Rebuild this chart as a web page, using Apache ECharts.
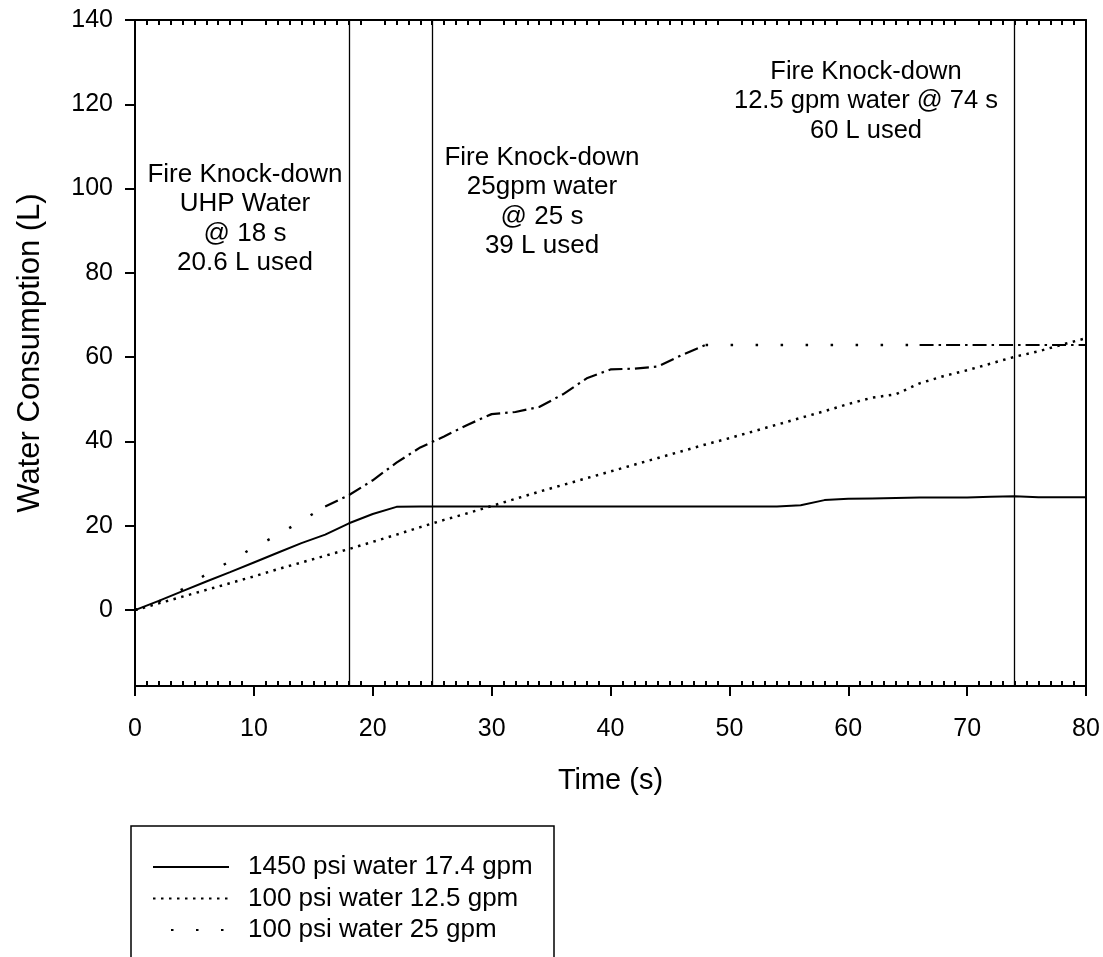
<!DOCTYPE html>
<html>
<head>
<meta charset="utf-8">
<script src="https://cdn.jsdelivr.net/npm/echarts@6/dist/echarts.min.js"></script>
<style>
html,body{margin:0;padding:0;background:#fff;}
#chart{width:1103px;height:957px;}
</style>
</head>
<body>
<div id="chart"></div>
<script>
// ---- data ----
const timeS = [0,2,4,6,8,10,12,14,16,18,20,22,24,26,28,30,32,34,36,38,40,42,44,46,48,50,52,54,56,58,60,62,64,66,68,70,72,74,76,78,80];
const uhp1450 = [0,2.2,4.5,6.8,9.0,11.3,13.6,15.9,17.9,20.6,22.8,24.5,24.6,24.6,24.6,24.6,24.6,24.6,24.6,24.6,24.6,24.6,24.6,24.6,24.6,24.6,24.6,24.6,24.9,26.1,26.4,26.5,26.6,26.7,26.7,26.7,26.9,27.0,26.8,26.8,26.8];
const low125 = [0,1.6,3.2,4.8,6.4,8.0,9.7,11.3,12.9,14.5,16.2,17.9,19.7,21.4,23.0,24.7,26.4,28.1,29.7,31.3,32.9,34.5,36.1,37.7,39.3,40.8,42.4,44.0,45.6,47.2,48.9,50.4,51.2,53.8,55.5,56.9,58.5,60.1,61.4,63.0,64.5];
const low25 = [0,2.0,5.0,8.5,11.6,14.9,17.8,21.2,24.6,27.3,30.8,35.0,38.6,41.2,44.0,46.5,47.0,48.2,51.2,55.0,57.1,57.3,57.8,60.5,62.9,62.9,62.9,62.9,62.9,62.9,62.9,62.9,62.9,62.9,62.9,62.9,62.9,62.9,62.9,62.9,62.9];
const seriesNames = ['1450 psi water 17.4 gpm','100 psi water 12.5 gpm','100 psi water 25 gpm'];
const knockdownTimes = [18,25,74];
const yTicks = [0,20,40,60,80,100,120,140];
const annotations = [
  'Fire Knock-down\nUHP Water\n@ 18 s\n20.6 L used',
  'Fire Knock-down\n25gpm water\n@ 25 s\n39 L used',
  'Fire Knock-down\n12.5 gpm water @ 74 s\n60 L used'
];

const FONT = 'Liberation Sans, Arial, sans-serif';
const pair = arr => timeS.map((t,i)=>[t,arr[i]]);
// the 25 gpm curve is drawn dotted in some stretches and dash-dot in others
const dotPart = timeS.map((t,i)=> (t<=16 || (t>=48 && t<=66)) ? [t,low25[i]] : [t,null]);
const dashPart = timeS.map((t,i)=> ((t>=16 && t<=48) || t>=66) ? [t,low25[i]] : [t,null]);

const chart = echarts.init(document.getElementById('chart'), null, {renderer:'canvas'});
const axisLineStyle = {color:'#000', width:2};
const option = {
  animation:false,
  backgroundColor:'#fff',
  textStyle:{fontFamily:FONT, color:'#000'},
  grid:{left:135,right:17,top:20,bottom:271,containLabel:false},
  xAxis:[
    {type:'value',position:'bottom',min:0,max:80,interval:10,
     axisLine:{show:true,onZero:false,lineStyle:axisLineStyle},
     axisTick:{show:true,inside:false,length:10,lineStyle:{color:'#000',width:2}},
     axisLabel:{show:true,fontSize:25,margin:31,color:'#000',fontFamily:FONT},
     splitLine:{show:false},
     name:'Time (s)',nameLocation:'middle',nameGap:80,
     nameTextStyle:{fontSize:29,color:'#000',fontFamily:FONT}},
    {type:'value',position:'bottom',min:0,max:80,interval:10,
     axisLine:{show:true,onZero:false,lineStyle:axisLineStyle},
     axisTick:{show:false,inside:true},
     minorTick:{show:true,splitNumber:10,length:5,lineStyle:{color:'#000',width:2}},
     axisLabel:{show:false},splitLine:{show:false}},
    {type:'value',position:'top',min:0,max:80,interval:10,
     axisLine:{show:true,onZero:false,lineStyle:axisLineStyle},
     axisTick:{show:false,inside:true},
     minorTick:{show:true,splitNumber:10,length:5,lineStyle:{color:'#000',width:2}},
     axisLabel:{show:false},splitLine:{show:false}}
  ],
  yAxis:[
    {type:'value',position:'left',min:-18,max:140,
     axisLine:{show:true,onZero:false,lineStyle:axisLineStyle},
     axisTick:{show:true,inside:false,length:10,customValues:yTicks,lineStyle:{color:'#000',width:2}},
     axisLabel:{show:true,fontSize:25,margin:22,color:'#000',fontFamily:FONT,customValues:yTicks},
     splitLine:{show:false},
     name:'Water Consumption (L)',nameLocation:'middle',nameGap:89,nameRotate:90,
     nameTextStyle:{fontSize:31,color:'#000',fontFamily:FONT}},
    {type:'value',position:'right',min:-18,max:140,
     axisLine:{show:true,onZero:false,lineStyle:axisLineStyle},
     axisTick:{show:false},axisLabel:{show:false},splitLine:{show:false}}
  ],
  legend:{
    orient:'vertical',left:152,top:854,padding:0,itemGap:5.5,
    itemWidth:76,itemHeight:14,
    data:[
      {name:seriesNames[0]},
      {name:seriesNames[1]},
      {name:seriesNames[2],lineStyle:{dashOffset:7}}
    ],
    itemStyle:{opacity:0},
    textStyle:{fontSize:26,lineHeight:26,color:'#000',fontFamily:FONT,padding:[0,0,0,14]}
  },
  graphic:[
    {type:'rect',shape:{x:131,y:826,width:423,height:160},style:{fill:'none',stroke:'#000',lineWidth:1.5},z:1},
    {type:'text',x:245,y:160,style:{text:annotations[0],fontSize:26,lineHeight:29.5,align:'center',fill:'#000',fontFamily:FONT}},
    {type:'text',x:542,y:143,style:{text:annotations[1],fontSize:26,lineHeight:29.5,align:'center',fill:'#000',fontFamily:FONT}},
    {type:'text',x:866,y:57,style:{text:annotations[2],fontSize:25.5,lineHeight:29.5,align:'center',fill:'#000',fontFamily:FONT}}
  ],
  series:[
    {name:seriesNames[0],type:'line',xAxisIndex:0,yAxisIndex:0,data:pair(uhp1450),
     symbol:'none',showSymbol:false,color:'#000',
     lineStyle:{color:'#000',width:2,type:'solid'},
     markLine:{silent:true,symbol:['none','none'],label:{show:false},
       lineStyle:{color:'#000',width:1.3,type:'solid'},
       data:knockdownTimes.map(t=>({xAxis:t}))}},
    {name:seriesNames[1],type:'line',xAxisIndex:0,yAxisIndex:0,data:pair(low125),
     symbol:'none',showSymbol:false,color:'#000',
     lineStyle:{color:'#000',width:2.5,type:[2.5,5.5]}},
    {name:seriesNames[2],type:'line',xAxisIndex:0,yAxisIndex:0,data:dotPart,
     symbol:'none',showSymbol:false,color:'#000',connectNulls:false,
     lineStyle:{color:'#000',width:2.5,type:[2.5,22.5]}},
    {name:'_dashdot',type:'line',xAxisIndex:0,yAxisIndex:0,data:dashPart,
     symbol:'none',showSymbol:false,color:'#000',connectNulls:false,
     lineStyle:{color:'#000',width:2.2,type:[14,5,2.5,5]}}
  ]
};
chart.setOption(option);
</script>
</body>
</html>
